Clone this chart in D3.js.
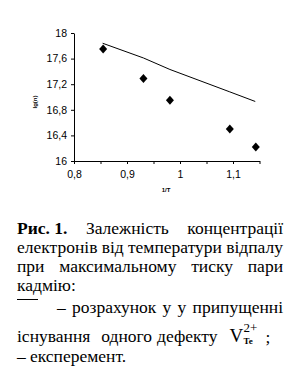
<!DOCTYPE html>
<html>
<head>
<meta charset="utf-8">
<script src="https://cdn.jsdelivr.net/npm/d3@7"></script>
<style>
  body { margin: 0; background: #fff; }
  svg { display: block; }
</style>
</head>
<body>
<svg id="chart" width="298" height="376"></svg>
<script>
// experiment points: 1/T vs lg(n)
const expX = [0.855, 0.931, 0.981, 1.094, 1.143];
const expY = [17.75, 17.29, 16.95, 16.50, 16.22];
// calculated curve
const calcX = [0.854, 0.931, 0.981, 1.094, 1.142];
const calcY = [17.84, 17.61, 17.43, 17.08, 16.93];

const xTicks = [0.8, 0.9, 1, 1.1];
const yTicks = [16, 16.4, 16.8, 17.2, 17.6, 18];

const svg = d3.select("#chart");

const xScale = d3.scaleLinear().domain([0.8, 1.15]).range([74, 259.5]);
const yScale = d3.scaleLinear().domain([16, 18]).range([161, 33]);

const fmt = (d) => String(d).replace(".", ",");

// x axis
const xAxis = svg.append("g")
  .attr("transform", `translate(0,${yScale(16)})`)
  .call(d3.axisBottom(xScale).tickValues(d3.range(0.8, 1.1501, 0.05)).tickSize(3).tickSizeOuter(0)
    .tickFormat((d) => xTicks.some((t) => Math.abs(t - d) < 1e-6) ? fmt(+d.toFixed(1)) : ""));
xAxis.select(".domain").attr("stroke", "#000");
xAxis.selectAll("text")
  .attr("font-family", "Liberation Sans, Arial, sans-serif")
  .attr("font-size", 10.5)
  .attr("fill", "#000")
  .attr("dy", "1.05em");

// y axis
const yAxis = svg.append("g")
  .attr("transform", `translate(${xScale(0.8)},0)`)
  .call(d3.axisLeft(yScale).tickValues(yTicks).tickSize(3).tickSizeOuter(0).tickFormat(fmt));
yAxis.select(".domain").attr("stroke", "#000");
yAxis.selectAll("text")
  .attr("font-family", "Liberation Sans, Arial, sans-serif")
  .attr("font-size", 10.5)
  .attr("fill", "#000")
  .attr("x", -7);

// axis titles
svg.append("text")
  .attr("transform", "translate(37,102) rotate(-90)")
  .attr("text-anchor", "middle")
  .attr("font-family", "Liberation Sans, Arial, sans-serif")
  .attr("font-size", 6)
  .attr("font-weight", "bold")
  .text("lg(n)");

svg.append("text")
  .attr("x", 166).attr("y", 192)
  .attr("text-anchor", "middle")
  .attr("font-family", "Liberation Sans, Arial, sans-serif")
  .attr("font-size", 6)
  .attr("font-weight", "bold")
  .text("1/T");

// calculated line
const line = d3.line().x((d, i) => xScale(calcX[i])).y((d) => yScale(d));
svg.append("path")
  .datum(calcY)
  .attr("d", line)
  .attr("fill", "none")
  .attr("stroke", "#000")
  .attr("stroke-width", 1);

// diamond markers
svg.selectAll(".pt")
  .data(expY)
  .join("path")
  .attr("class", "pt")
  .attr("transform", (d, i) => `translate(${xScale(expX[i])},${yScale(d)})`)
  .attr("d", "M0,-4.5L4,0L0,4.5L-4,0Z")
  .attr("fill", "#000");

// caption
const capFont = "Liberation Serif, Times New Roman, serif";
const capSize = 17.5;
const left = 17, right = 283;

function textAt(w, x, y, opts = {}) {
  return svg.append("text")
    .attr("x", x).attr("y", y)
    .attr("font-family", capFont)
    .attr("font-size", opts.size || capSize)
    .attr("font-weight", opts.bold ? "bold" : "normal")
    .text(w);
}

function justLine(words, y, start, boldFirst) {
  const nodes = words.map((w, i) => textAt(w, 0, y, { bold: boldFirst && i === 0 }));
  const widths = nodes.map((n) => n.node().getComputedTextLength());
  const gap = (right - start - d3.sum(widths)) / (words.length - 1);
  let x = start;
  nodes.forEach((n, i) => { n.attr("x", x); x += widths[i] + gap; });
}

// words placed one after another with given gaps, returns end x
function flowLine(words, gaps, y, start) {
  let x = start;
  words.forEach((w, i) => {
    const n = textAt(w, x, y);
    x += n.node().getComputedTextLength() + (gaps[i] || 0);
  });
  return x;
}

justLine(["Рис. 1.", "Залежність", "концентрації"], 234, left, true);
justLine(["електронів", "від", "температури", "відпалу"], 253, left);
justLine(["при", "максимальному", "тиску", "пари"], 272, left);
textAt("кадмію:", left, 291);

// line legend symbol, then justified rest
svg.append("line")
  .attr("x1", left).attr("x2", left + 21)
  .attr("y1", 299.5).attr("y2", 299.5)
  .attr("stroke", "#000").attr("stroke-width", 1);
justLine(["–", "розрахунок", "у", "у", "припущенні"], 313, 57);

// line 6 with V(Te)2+
const vx = flowLine(["існування", "одного", "дефекту"], [11, 5, 0], 342, left) + 12;
textAt("V", vx, 342, { size: 19 });
textAt("2+", vx + 14, 332, { size: 13 });
textAt("Te", vx + 14, 344, { size: 9, bold: true });
textAt(";", vx + 36, 343);

textAt("–", left, 362);
textAt("експеремент.", 30, 362);
</script>
</body>
</html>
